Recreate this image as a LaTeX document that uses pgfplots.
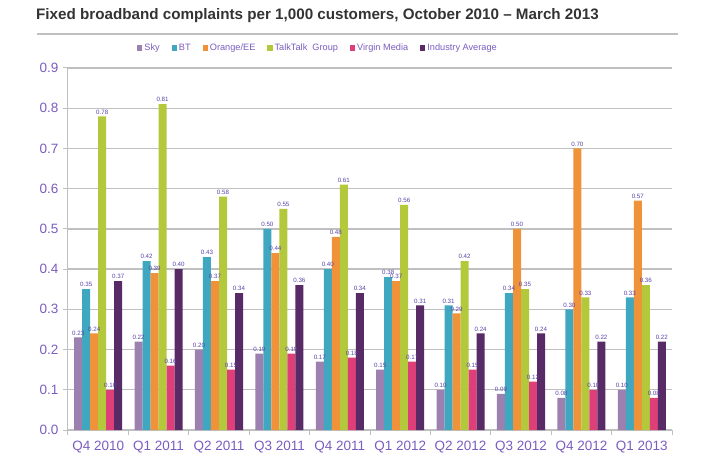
\documentclass[border=0pt]{standalone}
\usepackage{pgfplots}
\pgfplotsset{compat=1.18}
\usepackage{fontspec}
\setmainfont{Liberation Sans}
\definecolor{cSky}{HTML}{9B80B0}
\definecolor{cBT}{HTML}{3FA8C0}
\definecolor{cOr}{HTML}{F0923A}
\definecolor{cTT}{HTML}{B3C93B}
\definecolor{cVM}{HTML}{DF3F78}
\definecolor{cIA}{HTML}{582A66}
\definecolor{txt}{HTML}{7A5CC0}
\definecolor{lbl}{HTML}{5A44A8}
\definecolor{gridc}{HTML}{C0C0C0}
\begin{document}
\begin{tikzpicture}[x=1pt,y=1pt]
\useasboundingbox (0,0) rectangle (713,461);
\node[anchor=base west,font=\bfseries\fontsize{15.2}{17}\selectfont,text=black!80,inner sep=0] at (36,441) {Fixed broadband complaints per 1,000 customers, October 2010 – March 2013};
\draw[gridc,line width=1.3pt] (37,427) -- (678,427);
\begin{axis}[
  at={(68pt,31pt)}, anchor=south west,
  scale only axis, width=604pt, height=362pt,
  ybar=0pt, bar width=0.1325,
  xmin=-0.5, xmax=9.5, ymin=0, ymax=0.9,
  ytick={0,0.1,...,0.9},
  yticklabel style={/pgf/number format/fixed,/pgf/number format/fixed zerofill,/pgf/number format/precision=1},
  /pgf/number format/assume math mode=true,
  ymajorgrids, grid style={gridc,line width=1.3pt},
  xtick={0,...,9},
  xticklabels={Q4 2010,Q1 2011,Q2 2011,Q3 2011,Q4 2011,Q1 2012,Q2 2012,Q3 2012,Q4 2012,Q1 2013},
  minor xtick={-0.5,0.5,...,9.5},
  major tick length=5pt, minor tick length=5pt,
  every major x tick/.append style={draw=none},
  tick align=outside, tick style={gridc,line width=1pt},
  axis x line*=bottom, axis y line*=left,
  axis line style={gridc,line width=1pt},
  ticklabel style={text=txt,font=\fontsize{13.5}{15}\selectfont},
  yticklabel style={xshift=-1pt},
  xticklabel style={yshift=-3pt},
  nodes near coords,
  every node near coord/.append style={font=\fontsize{6.2}{7}\selectfont,text=lbl,anchor=south,inner sep=2pt,
     /pgf/number format/fixed,/pgf/number format/fixed zerofill,/pgf/number format/precision=2},
  legend columns=6,
  legend style={at={(318pt-68pt,413pt-31pt)},anchor=center,draw=none,fill=none,
    font=\fontsize{9.2}{11}\selectfont,text=txt,
    /tikz/every even column/.append style={column sep=10pt}},
  legend image code/.code={\fill[#1] (0pt,-2.6pt) rectangle (5.2pt,2.6pt);},
  legend cell align=left,
]
\addplot[fill=cSky,draw=none] coordinates {(0,0.23)(1,0.22)(2,0.20)(3,0.19)(4,0.17)(5,0.15)(6,0.10)(7,0.09)(8,0.08)(9,0.10)};
\addplot[fill=cBT,draw=none] coordinates {(0,0.35)(1,0.42)(2,0.43)(3,0.50)(4,0.40)(5,0.38)(6,0.31)(7,0.34)(8,0.30)(9,0.33)};
\addplot[fill=cOr,draw=none] coordinates {(0,0.24)(1,0.39)(2,0.37)(3,0.44)(4,0.48)(5,0.37)(6,0.29)(7,0.50)(8,0.70)(9,0.57)};
\addplot[fill=cTT,draw=none] coordinates {(0,0.78)(1,0.81)(2,0.58)(3,0.55)(4,0.61)(5,0.56)(6,0.42)(7,0.35)(8,0.33)(9,0.36)};
\addplot[fill=cVM,draw=none] coordinates {(0,0.10)(1,0.16)(2,0.15)(3,0.19)(4,0.18)(5,0.17)(6,0.15)(7,0.12)(8,0.10)(9,0.08)};
\addplot[fill=cIA,draw=none] coordinates {(0,0.37)(1,0.40)(2,0.34)(3,0.36)(4,0.34)(5,0.31)(6,0.24)(7,0.24)(8,0.22)(9,0.22)};
\legend{Sky,BT,Orange/EE,TalkTalk\ \ Group,Virgin Media,Industry Average}
\end{axis}
\end{tikzpicture}
\end{document}
